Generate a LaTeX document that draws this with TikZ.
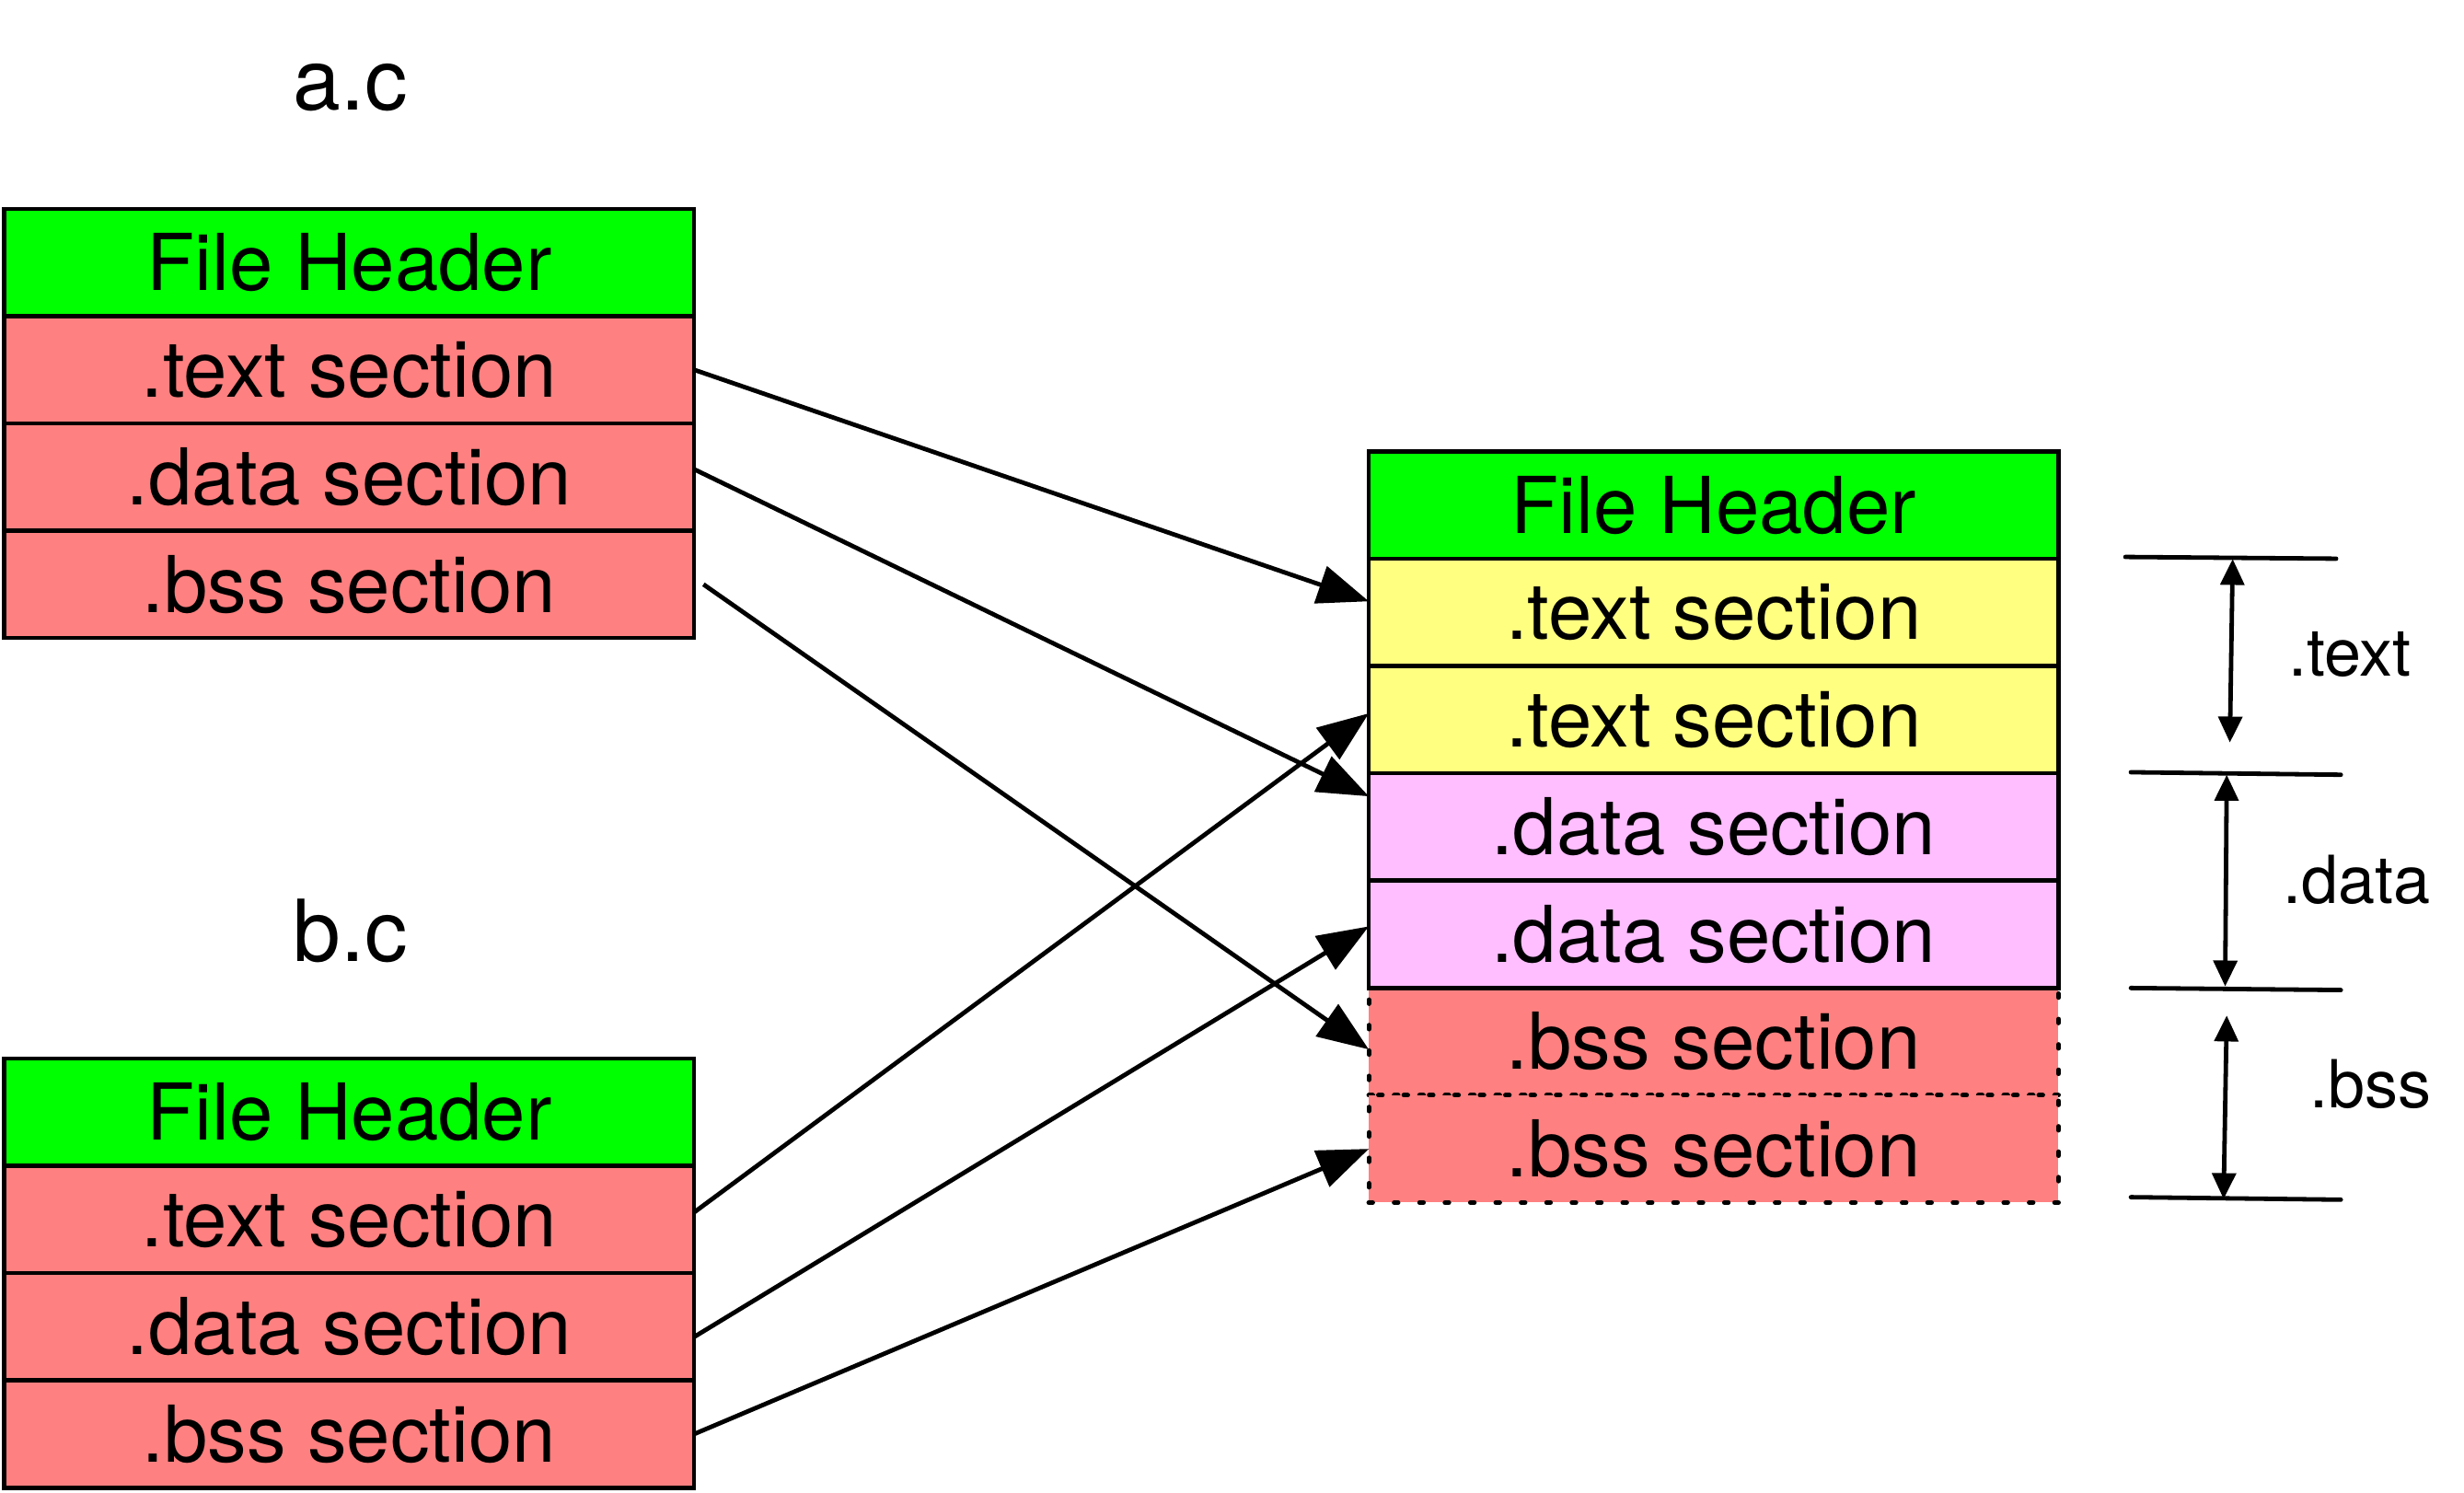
\documentclass[tikz,border=0pt]{standalone}
\usepackage{fontspec}
\setmainfont{TeX Gyre Heros}
\usepackage{tikz}
\usetikzlibrary{arrows.meta}
\usetikzlibrary{positioning}

\definecolor{hdrgreen}{RGB}{0,255,0}
\definecolor{secred}{RGB}{255,128,128}
\definecolor{secyellow}{RGB}{255,255,128}
\definecolor{secpink}{RGB}{255,190,255}

\tikzset{
	sec/.style={draw, line width=1.5pt, minimum width=8.78cm, minimum height=1.366cm,
		inner sep=0pt, outer sep=0pt, font=\fontsize{28.4}{34}\selectfont},
	hdr/.style={sec, fill=hdrgreen},
	redsec/.style={sec, fill=secred},
	yelsec/.style={sec, fill=secyellow},
	pinksec/.style={sec, fill=secpink},
	bsssec/.style={sec, fill=secred, line width=1.7pt, line cap=round, dash pattern=on 1.4pt off 7.8pt},
	link/.style={-{Triangle[length=6.5mm,width=4.9mm]}, line width=1.6pt},
	span/.style={{Triangle[length=3.3mm,width=3mm]}-{Triangle[length=3.3mm,width=3mm]}, line width=1.6pt},
	tick/.style={line width=1.6pt, line cap=round}
}

\begin{document}
\begin{tikzpicture}[x=0.02cm, y=-0.02cm]
	\useasboundingbox (0,0) rectangle (1568,950);

	% object files
	\node[anchor=base, font=\fontsize{31}{36}\selectfont] (alabel) at (222.9,69.9) {a.c};
	\node[hdr] (ahdr) at (222.2,167) {File Header};
	\node[redsec, below=0pt of ahdr] (atext) {.text section};
	\node[redsec, below=0pt of atext] (adata) {.data section};
	\node[redsec, below=0pt of adata] (abss) {.bss section};

	\node[anchor=base, font=\fontsize{31}{36}\selectfont] (blabel) at (222.9,612) {b.c};
	\node[hdr] (bhdr) at (222.2,707.7) {File Header};
	\node[redsec, below=0pt of bhdr] (btext) {.text section};
	\node[redsec, below=0pt of btext] (bdata) {.data section};
	\node[redsec, below=0pt of bdata] (bbss) {.bss section};

	% merged output
	\node[hdr] (ohdr) at (1090.5,321.35) {File Header};
	\node[yelsec, below=0pt of ohdr] (otext1) {.text section};
	\node[yelsec, below=0pt of otext1] (otext2) {.text section};
	\node[pinksec, below=0pt of otext2] (odata1) {.data section};
	\node[pinksec, below=0pt of odata1] (odata2) {.data section};
	\node[bsssec, below=0pt of odata2] (obss1) {.bss section};
	\node[bsssec, below=0pt of obss1] (obss2) {.bss section};
	\draw[line width=1.5pt] (odata2.south west) -- (odata2.south east);

	\draw[link] (atext.east) -- ([yshift=0.14cm]otext1.west);
	\draw[link] ([yshift=0.1cm]adata.east) -- ([yshift=0.39cm]odata1.west);
	\draw[link] ([xshift=0.12cm]abss.east) -- ([yshift=-0.1cm]obss1.west);
	\draw[link] ([yshift=0.09cm]btext.east) -- ([yshift=0.08cm]otext2.west);
	\draw[link] ([yshift=-0.13cm]bdata.east) -- ([yshift=0.1cm]odata2.west);
	\draw[link] (bbss.east) -- (obss2.west);

	% extents
	\coordinate (tk1a) at (1352.5,354.4); \coordinate (tk1b) at (1486.6,355.5);
	\coordinate (tk2a) at (1356,491.4);   \coordinate (tk2b) at (1489.6,493);
	\coordinate (tk3a) at (1356,628.7);   \coordinate (tk3b) at (1489.6,630);
	\coordinate (tk4a) at (1356,761.8);   \coordinate (tk4b) at (1489.6,763.4);
	\draw[tick] (tk1a) -- (tk1b);
	\draw[tick] (tk2a) -- (tk2b);
	\draw[tick] (tk3a) -- (tk3b);
	\draw[tick] (tk4a) -- (tk4b);

	\coordinate (texttop) at (1420.8,355.7); \coordinate (textbot) at (1419,472.5);
	\coordinate (datatop) at (1417,493);     \coordinate (databot) at (1416,627.7);
	\coordinate (bsstop) at (1417,646.2);    \coordinate (bssbot) at (1415,763);
	\draw[span] (texttop) -- (textbot);
	\draw[span] (datatop) -- (databot);
	\draw[span] (bsstop) -- (bssbot);

	\node[anchor=base west, font=\fontsize{24}{29}\selectfont] (textlbl) at (1450,430.5) {.text};
	\node[anchor=base west, font=\fontsize{24}{29}\selectfont] (datalbl) at (1446.5,575) {.data};
	\node[anchor=base west, font=\fontsize{24}{29}\selectfont] (bsslbl) at (1463.5,704.8) {.bss};
\end{tikzpicture}
\end{document}
